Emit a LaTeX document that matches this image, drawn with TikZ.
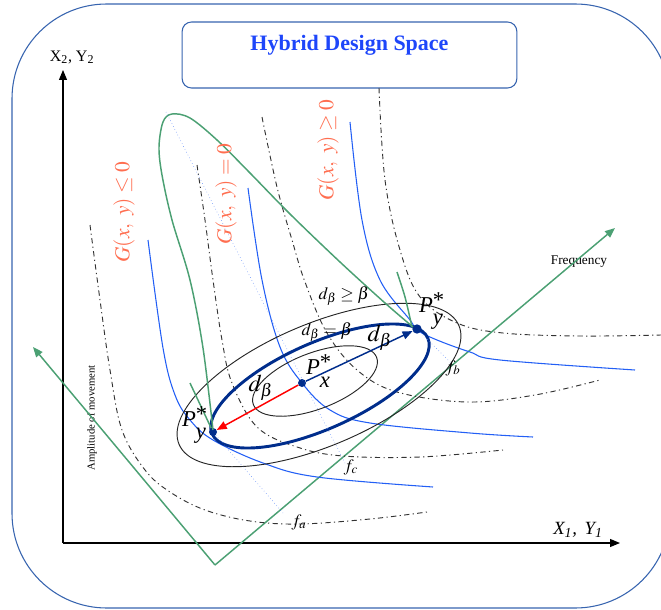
\documentclass[tikz,border=0pt]{standalone}
\usepackage{mathptmx}
\usepackage{fontspec}
\setmainfont{Liberation Serif}
\usetikzlibrary{arrows.meta}
\definecolor{frameblue}{RGB}{55,100,175}
\definecolor{titleblue}{RGB}{30,70,250}
\definecolor{curveblue}{RGB}{35,95,245}
\definecolor{navy}{RGB}{0,45,140}
\definecolor{mygreen}{RGB}{75,160,115}
\definecolor{gorange}{RGB}{255,110,80}
% P mit Stern und Index
\newcommand{\Pstar}[1]{\textit{P}\rlap{\raisebox{0.22em}{*}}\raisebox{-0.55em}{\textit{#1}}}

\begin{document}
\begin{tikzpicture}[x=0.75pt, y=-0.75pt, >={Triangle[length=7.5pt,width=6pt]},
  frame/.style={draw=frameblue, line width=0.8pt},
  dashdot/.style={black!80, line width=0.7pt, dash pattern=on 4pt off 2.5pt on 0.9pt off 2.5pt},
  fline/.style={curveblue, line width=0.8pt},
  gline/.style={mygreen, line width=1.1pt},
  dotline/.style={curveblue!80, line width=0.4pt, dotted},
  ell/.style={black!85, line width=0.7pt},
  pt/.style={circle, fill=navy, inner sep=0pt, minimum size=6pt},
  glabel/.style={gorange, rotate=90, font=\fontsize{16}{18}\selectfont},
  plabel/.style={font=\fontsize{17}{19}\selectfont, inner sep=0pt},
  blabel/.style={font=\fontsize{18}{20}\selectfont, inner sep=0pt},
  dlabel/.style={font=\fontsize{13}{15}\selectfont, inner sep=0pt},
  flabel/.style={font=\fontsize{13}{15}\selectfont, inner sep=0pt}]
\clip (0,0) rectangle (661,610);
% Rahmen und Titel
\draw[frame, rounded corners=71pt] (12,4) rectangle (670,608);
\node[frame, rounded corners=7pt, minimum width=251pt, minimum height=49.5pt] (titlebox) at (349.5,55) {};
\node[titleblue, font=\fontsize{16.5}{18}\selectfont\bfseries] (title) at (349.5,45) {Hybrid Design Space};
% Achsen
\coordinate (O) at (63,543);
\coordinate (ytop) at (63,70);
\coordinate (xend) at (620,543);
\draw[line width=0.8pt, ->] (O) -- (ytop);
\draw[line width=0.8pt, ->] (O) -- (xend);
\node[font=\fontsize{12}{14}\selectfont] (ylab) at (72,57) {X\textsubscript{2}, Y\textsubscript{2}};
\node[font=\fontsize{14}{16}\selectfont\itshape] (xlab) at (578,530) {X\textsubscript{1}, \,Y\textsubscript{1}};
\node[rotate=90, font=\fontsize{8}{10}\selectfont] (amplab) at (92,418) {Amplitude of movement};
\node[font=\fontsize{10}{12}\selectfont] (freqlab) at (579,262) {Frequency};
% gruene Achsen (Frequenz / Amplitude)
\coordinate (V) at (215,565);
\coordinate (freq) at (615,228);
\coordinate (amp) at (33,347);
\draw[gline, ->] (V) -- (freq);
\draw[gline, ->] (V) -- (amp);
% f-Kurven (strichpunktiert)
\draw[dashdot] plot[smooth, tension=0.6] coordinates {(90,225) (100,300) (110,370) (122,430) (145,470) (170,492) (205,510) (250,521) (300,524) (370,519) (427,512)};
\draw[dashdot] plot[smooth, tension=0.6] coordinates {(197,165) (205,220) (213,280) (222,340) (232,383) (257,427) (297,447) (343,456) (420,457) (503,450)};
\draw[dashdot] plot[smooth, tension=0.6] coordinates {(262,117) (277,187) (292,240) (305,282) (327,333) (357,370) (397,392) (467,402) (535,395) (600,380)};
\draw[dashdot] plot[smooth, tension=0.6] coordinates {(379,88) (385,180) (400,250) (420,297) (457,323) (503,333) (580,336) (661,335)};
% blaue Kurven
\draw[fline] plot[smooth, tension=0.6] coordinates {(148,240) (163,348) (175,395) (190,420) (213,440) (263,463) (317,477) (433,487)};
\draw[fline] plot[smooth, tension=0.6] coordinates {(248,188) (262,280) (280,347) (302,383) (330,410) (370,423) (470,433) (533,437)};
\draw[fline] plot[smooth, tension=0.6] coordinates {(350,122) (362,220) (380,280) (410,320) (417,330) (437,340) (470,352) (500,360) (635,370)};
% Ellipsen
\draw[ell, rotate around={23:(319,385)}] (319,385) ellipse [x radius=152, y radius=61];
\draw[ell, rotate around={21:(315,381)}] (315,381) ellipse [x radius=66, y radius=28];
\draw[navy, line width=2.2pt, rotate around={24:(320,386)}] (320,386) ellipse [x radius=118, y radius=43];
% Punkte
\node[pt] (Px) at (302,383) {};
\node[pt, minimum size=7pt] (Pyu) at (417,329) {};
\node[pt] (Pyl) at (213,432) {};
% gruene Grenzkurve
\draw[gline] plot[smooth, tension=0.55] coordinates {(213,430) (203,348) (190,280) (172,220) (162,175) (159,147) (163,122) (172,114) (190,118) (217,140) (250,173) (290,214) (340,262) (385,303) (413,327)};
\draw[gline] (190,383) -- (Pyl);
\draw[gline] plot[smooth] coordinates {(397,272) (405,297) (412,327)};
% punktierte Linien
\coordinate (dtop) at (166,112);
\coordinate (dfc) at (345,463);
\coordinate (dfa) at (283,513);
\coordinate (dfb) at (452,364);
\draw[dotline] (dtop) -- (dfc);
\draw[dotline] (Pyl) -- (dfa);
\draw[dotline] (Pyu) -- (dfb);
% Abstaende
\draw[navy, line width=1.1pt, ->] (Px) -- (Pyu);
\draw[red, line width=1.1pt, ->] (Px) -- (Pyl);
% Beschriftungen
\node[glabel] (gle) at (124,212) {$G(x,\ y)\leq 0$};
\node[glabel] (geq) at (226,194) {$G(x,\ y) = 0$};
\node[glabel] (gge) at (328,150) {$G(x,\ y)\geq 0$};
\node[plabel] (lPx) at (318,371) {\Pstar{x}};
\node[plabel] (lPyu) at (431,311) {\Pstar{y}};
\node[plabel] (lPyl) at (194,425) {\Pstar{y}};
\node[blabel] (ldu) at (380,338) {$d_{\beta}$};
\node[blabel] (ldl) at (261,388) {$d_{\beta}$};
\node[dlabel] (lge) at (344,296) {$d_{\beta}\geq\beta$};
\node[dlabel] (leq) at (327,332) {$d_{\beta}=\beta$};
\node[flabel] (lfa) at (299,522) {$f_{a}$};
\node[flabel] (lfb) at (453,368) {$f_{b}$};
\node[flabel] (lfc) at (351,467) {$f_{c}$};
\end{tikzpicture}
\end{document}
